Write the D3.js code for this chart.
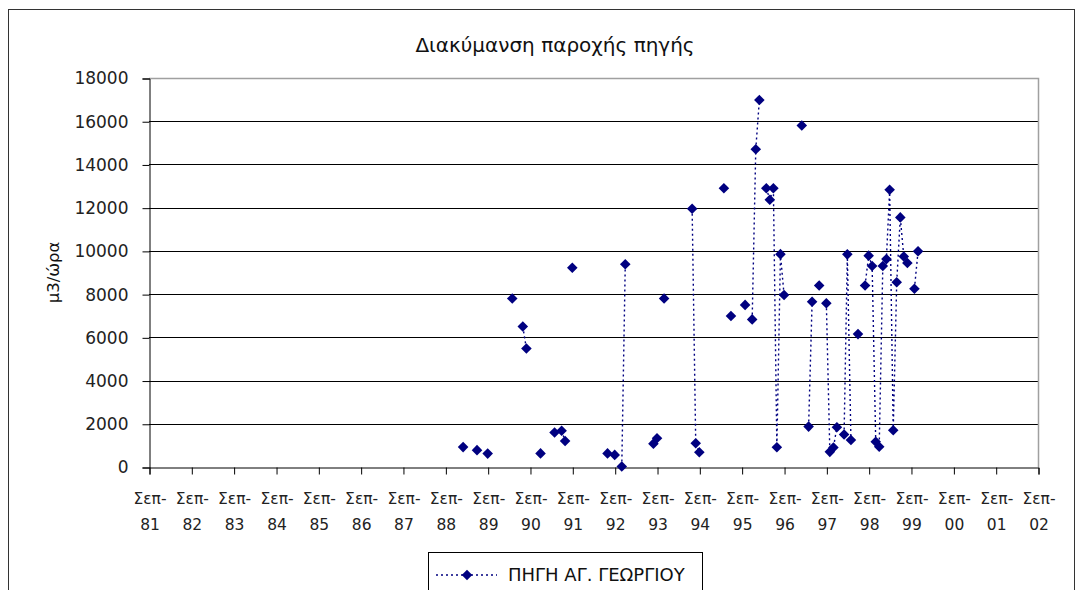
<!DOCTYPE html>
<html>
<head>
<meta charset="utf-8">
<script src="https://cdn.jsdelivr.net/npm/d3@7"></script>
<style>
  body { margin: 0; background: #fff; }
  text { font-family: "DejaVu Sans", Verdana, sans-serif; }
</style>
</head>
<body>
<div id="chart"></div>
<script>
////////////////// Data ////////////////////
var title = "Διακύμανση παροχής πηγής";
var yTitle = "μ3/ώρα";
var seriesName = "ΠΗΓΗ ΑΓ. ΓΕΩΡΓΙΟΥ";
var tickYears = ["81", "82", "83", "84", "85", "86", "87", "88", "89", "90", "91",
                 "92", "93", "94", "95", "96", "97", "98", "99", "00", "01", "02"];
var yTicks = [0, 2000, 4000, 6000, 8000, 10000, 12000, 14000, 16000, 18000];

var months = ["1989-02", "1989-06", "1989-09", "1990-04", "1990-07", "1990-08", "1990-12",
              "1991-04", "1991-06", "1991-07", "1991-09", "1992-07", "1992-09", "1992-11",
              "1992-12", "1993-08", "1993-09", "1993-11", "1994-07", "1994-08", "1994-09",
              "1995-04", "1995-06", "1995-10", "1995-12", "1996-01", "1996-02", "1996-04",
              "1996-05", "1996-06", "1996-07", "1996-08", "1996-09", "1997-02", "1997-04",
              "1997-05", "1997-07", "1997-09", "1997-10", "1997-11", "1997-12", "1998-02",
              "1998-03", "1998-04", "1998-06", "1998-08", "1998-09", "1998-10", "1998-11",
              "1998-12", "1999-01", "1999-02", "1999-03", "1999-04", "1999-05", "1999-06",
              "1999-07", "1999-08", "1999-10", "1999-11"];
var flows = [920, 780, 620, 7800, 6500, 5480, 630,
             1600, 1680, 1200, 9220, 630, 560, 20,
             9380, 1080, 1330, 7800, 11950, 1100, 680,
             12900, 6990, 7500, 6830, 14700, 16980, 12900,
             12370, 12900, 910, 9850, 7960, 15800, 1870,
             7650, 8400, 7575, 700, 900, 1840, 1500,
             9840, 1250, 6150, 8400, 9780, 9300, 1170,
             940, 9300, 9620, 12830, 1700, 8550, 11550,
             9740, 9440, 8250, 9980];

////////////////// Chart Parameters ////////////////////
var svgWidth = 1081;
var svgHeight = 590;
var plot = { left: 149, right: 1038, top: 78, bottom: 467 };
var navy = "#000080";

var svg = d3.select("#chart").append("svg")
  .attr("width", svgWidth)
  .attr("height", svgHeight);

// chart frame
svg.append("rect")
  .attr("x", 8.5).attr("y", 9.5)
  .attr("width", 1066).attr("height", 640)
  .attr("fill", "none")
  .attr("stroke", "#333")
  .attr("stroke-width", 1);

var parseMonth = d3.timeParse("%Y-%m");
var data = months.map((m, i) => ({ date: parseMonth(m), value: flows[i] }));

////////// Scales //////////
var x = d3.scaleTime()
  .domain([new Date(1981, 8, 1), new Date(2002, 8, 1)])
  .range([plot.left, plot.right]);

var y = d3.scaleLinear()
  .domain([0, 18000])
  .range([plot.bottom, plot.top]);

////////// Gridlines //////////
svg.append("g")
  .selectAll("line")
  .data(yTicks.filter(v => v > 0 && v < 18000))
  .enter()
  .append("line")
  .attr("x1", plot.left).attr("x2", plot.right)
  .attr("y1", d => Math.round(y(d)) + 0.5)
  .attr("y2", d => Math.round(y(d)) + 0.5)
  .attr("stroke", "#000")
  .attr("stroke-width", 1);

// plot area border (top and right are grey)
svg.append("path")
  .attr("d", `M${plot.left},${plot.top + 0.5}H${plot.right + 0.5}V${plot.bottom}`)
  .attr("fill", "none")
  .attr("stroke", "#a0a0a0")
  .attr("stroke-width", 1.5);

////////// Axes //////////
var yAxis = d3.axisLeft(y)
  .tickValues(yTicks)
  .tickSize(7)
  .tickPadding(14)
  .tickFormat(d3.format("d"));

var yG = svg.append("g")
  .attr("transform", `translate(${plot.left + 0.5},0.5)`)
  .call(yAxis);
yG.select(".domain").attr("stroke", "#000");
yG.selectAll("text")
  .attr("font-size", 17)
  .attr("fill", "#222");

var tickDates = tickYears.map((yy, i) => new Date(1981 + i, 8, 1));
var xAxis = d3.axisBottom(x)
  .tickValues(tickDates)
  .tickSize(7)
  .tickFormat((d, i) => tickYears[i]);

var xG = svg.append("g")
  .attr("transform", `translate(0.5,${plot.bottom + 0.5})`)
  .call(xAxis);
xG.select(".domain").attr("stroke", "#000");
xG.selectAll(".tick text").each(function (d, i) {
  var t = d3.select(this);
  t.text(null)
    .attr("font-size", 15.5)
    .attr("fill", "#222")
    .attr("y", 0)
    .attr("dy", null);
  t.append("tspan").attr("x", 0).attr("y", 36).text("Σεπ-");
  t.append("tspan").attr("x", 0).attr("y", 62).text(tickYears[i]);
});

////////// Titles //////////
svg.append("text")
  .attr("x", 555)
  .attr("y", 52)
  .attr("text-anchor", "middle")
  .attr("font-size", 20)
  .attr("fill", "#111")
  .text(title);

svg.append("text")
  .attr("transform", `translate(59, ${(plot.top + plot.bottom) / 2}) rotate(-90)`)
  .attr("text-anchor", "middle")
  .attr("font-size", 16.5)
  .attr("fill", "#111")
  .text(yTitle);

////////// Line (breaks where a month is missing) //////////
var segments = [];
data.forEach(function (d, i) {
  if (i === 0 || d3.timeMonth.count(data[i - 1].date, d.date) > 1) segments.push([]);
  segments[segments.length - 1].push(d);
});

var line = d3.line()
  .x(d => x(d.date))
  .y(d => y(d.value));

svg.append("g")
  .selectAll("path")
  .data(segments.filter(s => s.length > 1))
  .enter()
  .append("path")
  .attr("d", line)
  .attr("fill", "none")
  .attr("stroke", navy)
  .attr("stroke-width", 1.4)
  .attr("stroke-dasharray", "2,3");

////////// Markers //////////
var diamond = d3.symbol().type(d3.symbolSquare).size(56);

svg.append("g")
  .selectAll("path")
  .data(data)
  .enter()
  .append("path")
  .attr("d", diamond)
  .attr("transform", d => `translate(${x(d.date)},${y(d.value)}) rotate(45)`)
  .attr("fill", navy);

////////// Legend //////////
var legend = svg.append("g");
legend.append("rect")
  .attr("x", 428.5).attr("y", 552.5)
  .attr("width", 274).attr("height", 60)
  .attr("fill", "#fff")
  .attr("stroke", "#000");
legend.append("line")
  .attr("x1", 436).attr("x2", 497)
  .attr("y1", 575).attr("y2", 575)
  .attr("stroke", navy)
  .attr("stroke-width", 1.4)
  .attr("stroke-dasharray", "2,3");
legend.append("path")
  .attr("d", diamond)
  .attr("transform", "translate(467,575) rotate(45)")
  .attr("fill", navy);
legend.append("text")
  .attr("x", 508)
  .attr("y", 581)
  .attr("font-size", 18)
  .attr("fill", "#111")
  .text(seriesName);
</script>
</body>
</html>
